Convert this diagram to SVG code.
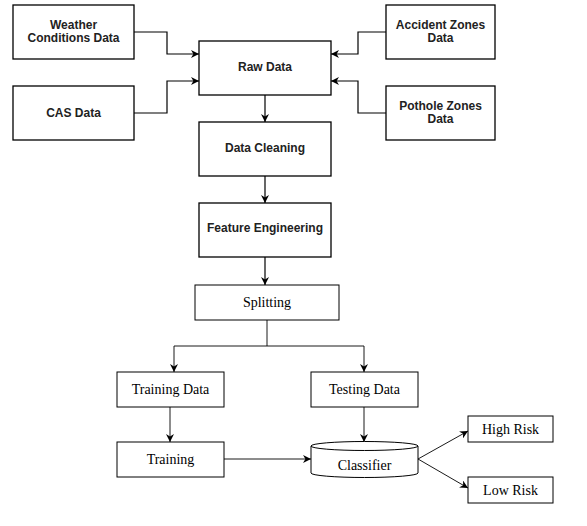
<svg xmlns="http://www.w3.org/2000/svg" width="587" height="526" viewBox="0 0 587 526">
<defs>
<style>
.box{fill:#fff;stroke:#000;stroke-width:1.3}
.box2{fill:#fff;stroke:#000;stroke-width:1}
.t1{font-family:"Liberation Sans",Arial,sans-serif;font-weight:bold;font-size:12px;fill:#222;text-anchor:middle}
.t2{font-family:"Liberation Serif","Times New Roman",serif;font-size:14px;fill:#000;text-anchor:middle}
.c{fill:none;stroke:#000;stroke-width:1.2}
.c2{fill:none;stroke:#000;stroke-width:0.9}
</style>
<marker id="a" viewBox="0 0 10 10" refX="10" refY="5" markerWidth="8" markerHeight="8" markerUnits="userSpaceOnUse" orient="auto">
<path d="M0,0 L10,5 L0,10 L3,5 Z" fill="#000"/>
</marker>
</defs>
<rect width="587" height="526" fill="#fff"/>
<g id="connectors">
<path class="c" d="M134,32 H167 V54 H199" marker-end="url(#a)"/>
<path class="c" d="M134,113 H167 V81 H199" marker-end="url(#a)"/>
<path class="c" d="M386,32 H358 V54 H331" marker-end="url(#a)"/>
<path class="c" d="M386,113 H358 V81 H331" marker-end="url(#a)"/>
<path class="c" d="M265,95 V122" marker-end="url(#a)"/>
<path class="c" d="M265,176 V203" marker-end="url(#a)"/>
<path class="c" d="M265,257 V285" marker-end="url(#a)"/>
<path class="c2" d="M267,320 V346"/>
<path class="c2" d="M174,346 H364"/>
<path class="c2" d="M174,346 V372" marker-end="url(#a)"/>
<path class="c2" d="M364,346 V372" marker-end="url(#a)"/>
<path class="c2" d="M170,407 V442" marker-end="url(#a)"/>
<path class="c2" d="M224,459 H311" marker-end="url(#a)"/>
<path class="c2" d="M364,407 V442" marker-end="url(#a)"/>
<path class="c2" d="M418,459 L468,431" marker-end="url(#a)"/>
<path class="c2" d="M418,459 L468,488" marker-end="url(#a)"/>
</g>
<g id="weather">
<rect class="box" x="13" y="5" width="121" height="54"/>
<text class="t1" x="73.5" y="29">Weather</text>
<text class="t1" x="73.5" y="42">Conditions Data</text>
</g>
<g id="cas">
<rect class="box" x="13" y="86" width="121" height="54"/>
<text class="t1" x="73.5" y="117">CAS Data</text>
</g>
<g id="accident">
<rect class="box" x="386" y="5" width="109" height="54"/>
<text class="t1" x="440.5" y="29">Accident Zones</text>
<text class="t1" x="440.5" y="42">Data</text>
</g>
<g id="pothole">
<rect class="box" x="386" y="86" width="109" height="54"/>
<text class="t1" x="440.5" y="110">Pothole Zones</text>
<text class="t1" x="440.5" y="123">Data</text>
</g>
<g id="raw">
<rect class="box" x="199" y="41" width="132" height="54"/>
<text class="t1" x="265" y="71">Raw Data</text>
</g>
<g id="cleaning">
<rect class="box" x="199" y="122" width="132" height="54"/>
<text class="t1" x="265" y="152">Data Cleaning</text>
</g>
<g id="feature">
<rect class="box" x="199" y="203" width="132" height="54"/>
<text class="t1" x="265" y="232">Feature Engineering</text>
</g>
<g id="splitting">
<rect class="box2" x="195" y="285" width="144" height="35"/>
<text class="t2" x="267" y="307">Splitting</text>
</g>
<g id="trainingdata">
<rect class="box2" x="117" y="372" width="107" height="35"/>
<text class="t2" x="170.5" y="394">Training Data</text>
</g>
<g id="testingdata">
<rect class="box2" x="311" y="372" width="107" height="35"/>
<text class="t2" x="364.5" y="394">Testing Data</text>
</g>
<g id="training">
<rect class="box2" x="117" y="442" width="107" height="35"/>
<text class="t2" x="170.5" y="464">Training</text>
</g>
<g id="classifier">
<path class="box2" d="M311,446 A53.5,4.5 0 0 1 418,446 V473 A53.5,4.5 0 0 1 311,473 Z"/>
<path class="box2" d="M311,446 A53.5,4.5 0 0 0 418,446" fill="none"/>
<text class="t2" x="364.5" y="470">Classifier</text>
</g>
<g id="highrisk">
<rect class="box2" x="468" y="416" width="85" height="26"/>
<text class="t2" x="510.5" y="434">High Risk</text>
</g>
<g id="lowrisk">
<rect class="box2" x="468" y="477" width="85" height="26"/>
<text class="t2" x="510.5" y="495">Low Risk</text>
</g>
</svg>
